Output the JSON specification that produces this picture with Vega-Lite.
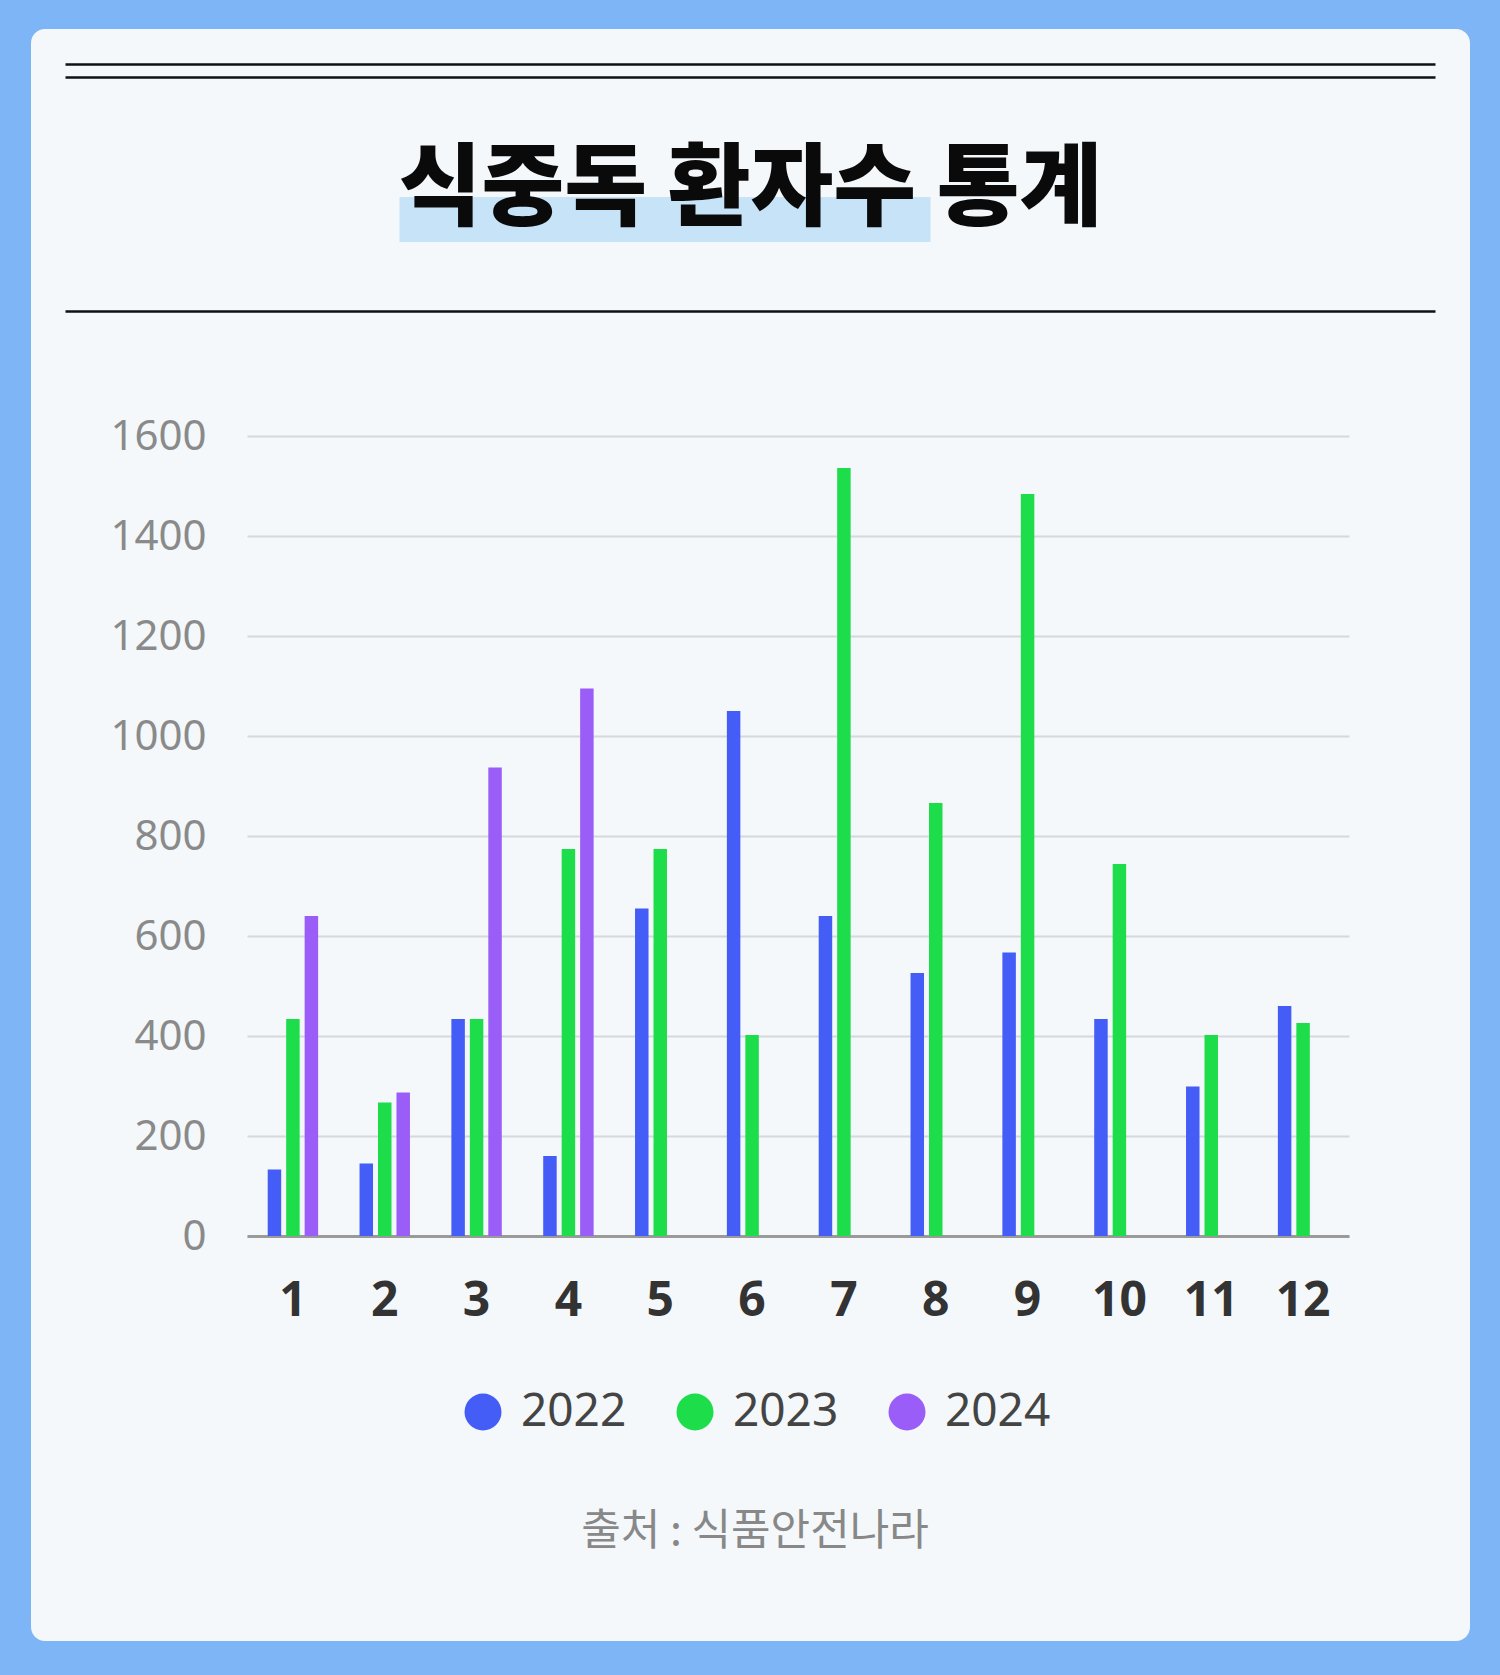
{
  "$schema": "https://vega.github.io/schema/vega-lite/v6.json",
  "width": 1439,
  "height": 1612,
  "autosize": {"type": "none"},
  "padding": {"left": 31, "top": 29, "right": 30, "bottom": 34},
  "background": "#7DB5F6",
  "title": {
    "text": "식중독 환자수 통계",
    "orient": "top",
    "anchor": "middle",
    "frame": "group",
    "offset": -279,
    "baseline": "alphabetic",
    "font": "Noto Sans CJK KR",
    "fontSize": 90,
    "fontWeight": 900,
    "color": "#0A0A0A"
  },
  "config": {
    "view": {"fill": "#F4F8FB", "stroke": null, "cornerRadius": 14},
    "font": "Noto Sans"
  },
  "data": {
    "values": [
      {"month": 1, "year": "2022", "count": 133},
      {"month": 2, "year": "2022", "count": 145},
      {"month": 3, "year": "2022", "count": 434},
      {"month": 4, "year": "2022", "count": 160},
      {"month": 5, "year": "2022", "count": 655},
      {"month": 6, "year": "2022", "count": 1050},
      {"month": 7, "year": "2022", "count": 640},
      {"month": 8, "year": "2022", "count": 526},
      {"month": 9, "year": "2022", "count": 567},
      {"month": 10, "year": "2022", "count": 434},
      {"month": 11, "year": "2022", "count": 299},
      {"month": 12, "year": "2022", "count": 460},
      {"month": 1, "year": "2023", "count": 434},
      {"month": 2, "year": "2023", "count": 267},
      {"month": 3, "year": "2023", "count": 434},
      {"month": 4, "year": "2023", "count": 774},
      {"month": 5, "year": "2023", "count": 774},
      {"month": 6, "year": "2023", "count": 402},
      {"month": 7, "year": "2023", "count": 1536},
      {"month": 8, "year": "2023", "count": 866},
      {"month": 9, "year": "2023", "count": 1484},
      {"month": 10, "year": "2023", "count": 744},
      {"month": 11, "year": "2023", "count": 402},
      {"month": 12, "year": "2023", "count": 426},
      {"month": 1, "year": "2024", "count": 640},
      {"month": 2, "year": "2024", "count": 287},
      {"month": 3, "year": "2024", "count": 937},
      {"month": 4, "year": "2024", "count": 1095}
    ]
  },
  "resolve": {"scale": {"x": "independent"}, "axis": {"x": "independent"}},
  "layer": [
    {
      "data": {"values": []},
      "mark": "rule",
      "encoding": {
        "x": {
          "field": "edge",
          "type": "quantitative",
          "scale": {"domain": [0, 1], "range": [34, 1404]},
          "axis": {"orient": "top", "offset": -35, "domainColor": "#111111", "domainWidth": 2.5, "labels": false, "ticks": false, "grid": false, "title": null, "minExtent": 0, "maxExtent": 0}
        }
      }
    },
    {
      "data": {"values": []},
      "mark": "rule",
      "encoding": {
        "x": {
          "field": "edge",
          "type": "quantitative",
          "scale": {"domain": [0, 1], "range": [34, 1404]},
          "axis": {"orient": "top", "offset": -48, "domainColor": "#111111", "domainWidth": 2.5, "labels": false, "ticks": false, "grid": false, "title": null, "minExtent": 0, "maxExtent": 0}
        }
      }
    },
    {
      "data": {"values": []},
      "mark": "rule",
      "encoding": {
        "x": {
          "field": "edge",
          "type": "quantitative",
          "scale": {"domain": [0, 1], "range": [34, 1404]},
          "axis": {"orient": "top", "offset": -282, "domainColor": "#111111", "domainWidth": 2.5, "labels": false, "ticks": false, "grid": false, "title": null, "minExtent": 0, "maxExtent": 0}
        }
      }
    },
    {
      "data": {"values": []},
      "mark": "rule",
      "encoding": {
        "x": {
          "field": "edge",
          "type": "quantitative",
          "scale": {"domain": [0, 1], "range": [368, 899]},
          "axis": {"orient": "top", "offset": -190, "domainColor": "#C6E3F7", "domainWidth": 45, "labels": false, "ticks": false, "grid": false, "title": null, "minExtent": 0, "maxExtent": 0}
        }
      }
    },
    {
      "mark": {"type": "bar"},
      "encoding": {
        "x": {
          "field": "month",
          "type": "ordinal",
          "scale": {"range": [216, 1318], "paddingInner": 0.451, "paddingOuter": 0.2255},
          "axis": {"orient": "bottom", "offset": -405, "title": null, "labelAngle": 0, "labelFont": "Noto Sans", "labelFontSize": 48, "labelFontWeight": "bold", "labelColor": "#333333", "labelPadding": 41, "ticks": false, "tickSize": 0, "domainColor": "#9A9A9A", "domainWidth": 3, "grid": false, "minExtent": 0, "maxExtent": 0}
        },
        "xOffset": {"field": "year", "type": "nominal", "scale": {"paddingInner": 0.27, "paddingOuter": 0}},
        "y": {
          "field": "count",
          "type": "quantitative",
          "scale": {"domain": [0, 1600], "range": [1207, 407], "nice": false},
          "axis": {"orient": "left", "offset": -213, "title": null, "tickCount": 8, "format": "d", "domain": false, "ticks": false, "tickSize": 0, "labelPadding": 38, "labelFont": "Noto Sans", "labelFontSize": 42, "labelColor": "#8A8A8A", "gridColor": "#D6D8DB", "gridWidth": 2, "minExtent": 0, "maxExtent": 0}
        },
        "color": {
          "field": "year",
          "type": "nominal",
          "scale": {"domain": ["2022", "2023", "2024"], "range": ["#435DF6", "#1DDD4A", "#9A5DF7"]},
          "legend": {
            "orient": "none",
            "legendX": 429,
            "legendY": 1360,
            "direction": "horizontal",
            "symbolType": "circle",
            "symbolSize": 1369,
            "symbolStrokeWidth": 0,
            "symbolOpacity": 1,
            "labelFont": "Noto Sans",
            "labelFontSize": 46,
            "labelColor": "#444444",
            "labelOffset": 15,
            "columnPadding": 45,
            "padding": 0,
            "title": "출처 : 식품안전나라",
            "titleOrient": "bottom",
            "titleAnchor": "middle",
            "titleLimit": 1000,
            "titleFont": "Noto Sans CJK KR",
            "titleFontSize": 43,
            "titleFontWeight": "normal",
            "titleColor": "#888888",
            "titlePadding": 76
          }
        }
      }
    }
  ]
}
